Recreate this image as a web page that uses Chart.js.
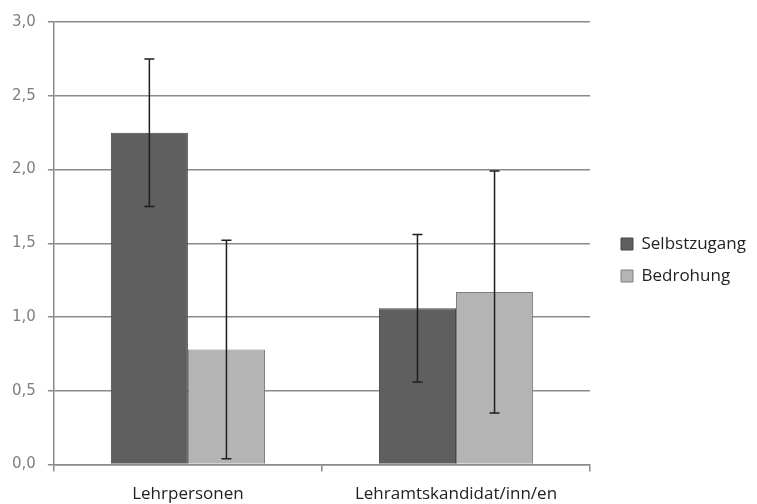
<!DOCTYPE html>
<html>
<head>
<meta charset="utf-8">
<script src="https://cdn.jsdelivr.net/npm/chart.js@4/dist/chart.umd.min.js"></script>
<style>
    body { margin: 0; background: #fff; }
    #wrap { width: 757px; height: 504px; }
</style>
</head>
<body>
<div id="wrap"><canvas id="barChart" width="757" height="504"></canvas></div>
<script>
// data
const categories = ['Lehrpersonen', 'Lehramtskandidat/inn/en'];
const seriesNames = ['Selbstzugang', 'Bedrohung'];
const selbstzugang = [2.25, 1.06];
const bedrohung = [0.78, 1.17];
const selbstzugangErr = [0.5, 0.5];
const bedrohungErr = [0.74, 0.82];
const yTicks = [0, 0.5, 1.0, 1.5, 2.0, 2.5, 3.0];

// error bars drawn from the y scale
const errorBars = {
    id: 'errorBars',
    afterDatasetsDraw(chart) {
        const ctx = chart.ctx;
        const yScale = chart.scales.y;
        chart.data.datasets.forEach(function (ds, i) {
            const meta = chart.getDatasetMeta(i);
            meta.data.forEach(function (bar, j) {
                const v = ds.data[j];
                const e = ds.errors[j];
                const top = yScale.getPixelForValue(v + e);
                const bottom = yScale.getPixelForValue(v - e);
                ctx.save();
                ctx.strokeStyle = '#1e1e1e';
                ctx.lineWidth = 1.5;
                ctx.beginPath();
                ctx.moveTo(bar.x, top);
                ctx.lineTo(bar.x, bottom);
                ctx.moveTo(bar.x - 5, top);
                ctx.lineTo(bar.x + 5, top);
                ctx.moveTo(bar.x - 5, bottom);
                ctx.lineTo(bar.x + 5, bottom);
                ctx.stroke();
                ctx.restore();
            });
        });
    }
};

// push the legend a bit right of the plot and up, like the original
const legendShift = {
    id: 'legendShift',
    afterLayout(chart) {
        const lg = chart.legend;
        const dx = 606 - lg.left;
        lg.left += dx;
        lg.right += dx;
        lg.top -= 9;
        lg.bottom -= 9;
    }
};

const ctx = document.getElementById('barChart').getContext('2d');
new Chart(ctx, {
    type: 'bar',
    data: {
        labels: categories,
        datasets: [{
            label: seriesNames[0],
            data: selbstzugang,
            errors: selbstzugangErr,
            backgroundColor: '#5f5f5f',
            borderColor: '#474747',
            borderWidth: 1
        }, {
            label: seriesNames[1],
            data: bedrohung,
            errors: bedrohungErr,
            backgroundColor: '#b4b4b4',
            borderColor: '#7f7f7f',
            borderWidth: 1
        }]
    },
    options: {
        responsive: false,
        animation: false,
        layout: { padding: { top: 22, left: 0, right: 17, bottom: -12 } },
        datasets: {
            bar: { categoryPercentage: 0.575, barPercentage: 1.0 }
        },
        plugins: {
            legend: {
                position: 'right',
                labels: {
                    font: { family: 'Open Sans', size: 17 },
                    color: '#222',
                    boxWidth: 12,
                    boxHeight: 12,
                    padding: 15
                }
            },
            tooltip: { enabled: false }
        },
        scales: {
            x: {
                grid: {
                    drawOnChartArea: false,
                    drawTicks: true,
                    tickLength: 7,
                    color: '#8a8a8a',
                    lineWidth: 1.5
                },
                border: { color: '#8a8a8a', width: 1.5 },
                ticks: {
                    font: { family: 'Open Sans', size: 17 },
                    color: '#222',
                    padding: 12
                }
            },
            y: {
                min: 0,
                max: 3,
                afterBuildTicks: function (axis) {
                    axis.ticks = yTicks.map(v => ({ value: v }));
                },
                grid: {
                    color: '#8a8a8a',
                    lineWidth: 1.5,
                    tickLength: 6
                },
                border: { color: '#8a8a8a', width: 1.5 },
                ticks: {
                    font: { family: 'DejaVu Sans', size: 15 },
                    color: '#7f7f7f',
                    padding: 12,
                    callback: function (v) {
                        return v.toFixed(1).replace('.', ',');
                    }
                }
            }
        }
    },
    plugins: [errorBars, legendShift]
});
</script>
</body>
</html>
